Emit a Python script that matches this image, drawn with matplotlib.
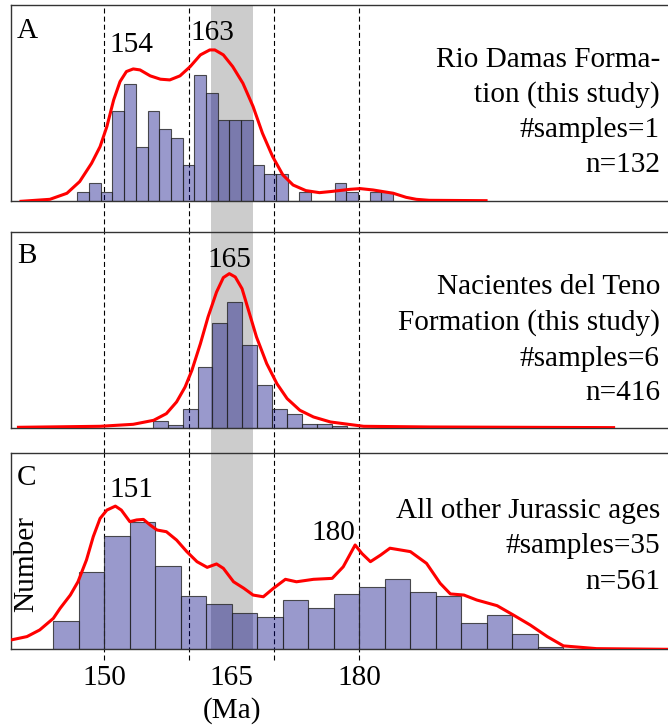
import numpy as np
import matplotlib.pyplot as plt

plt.rcParams['font.family'] = ['Liberation Serif', 'DejaVu Serif']

W, H = 668, 728

# histograms: first bin edge (Ma), bin width (Ma), counts per bin
a_start, a_width = 146.83, 1.375
a_counts = [1, 2, 1, 10, 13, 6, 10, 8, 7, 4, 14, 12, 9, 9, 9, 4, 3, 3, 0, 1,
            0, 0, 2, 1, 0, 1, 1]
b_start, b_width = 155.69, 1.758
b_counts = [6, 3, 16, 51, 88, 106, 70, 36, 16, 12, 4, 4, 2]
c_start, c_width = 144.0, 3.0
c_counts = [15, 41, 60, 67, 44, 28, 24, 19, 17, 26, 22, 29, 33, 37, 30, 28,
            14, 18, 8, 1]

# density curves (Ma, scaled to counts)
a_kde_x = [140.2, 143.6, 145.6, 147.1, 148.5, 149.5, 150.3, 151.1, 151.85, 152.6,
           153.4, 154.2, 155.4, 156.6, 157.7, 158.9, 160.1, 161.3, 162.4, 163.0,
           164.0, 165.1, 166.3, 167.5, 168.6, 169.8, 171.0, 172.2, 173.7, 175.3,
           176.8, 178.9, 180.1, 181.6, 184.0, 185.5, 186.7, 188.2, 194.9]
a_kde_y = [0.0, 0.22, 0.89, 2.19, 4.22, 6.07, 8.3, 11.26, 13.3, 14.41,
           14.7, 14.59, 13.93, 13.56, 13.48, 13.93, 14.96, 16.26, 16.81, 16.81,
           16.26, 14.96, 13.11, 10.52, 7.56, 4.96, 2.93, 1.81, 1.19, 0.96,
           1.1, 1.33, 1.41, 1.26, 0.89, 0.44, 0.22, 0.11, 0.07]
b_kde_x = [139.9, 149.5, 153.4, 155.8, 157.3, 158.5, 159.5, 160.3, 161.3, 162.2,
           163.2, 164.0, 164.7, 165.4, 166.2, 166.9, 167.9, 169.1, 170.3, 171.5,
           173.0, 174.6, 176.6, 180.5, 188.3, 209.9]
b_kde_y = [0.84, 1.68, 3.35, 6.7, 12.3, 22.1, 34.6, 48.6, 70.9, 93.3,
           114.2, 126.3, 129.6, 126.8, 117.0, 100.3, 76.5, 54.2, 37.4, 24.9,
           15.1, 9.5, 5.3, 1.68, 1.12, 0.56]
c_kde_x = [139.0, 140.9, 142.4, 144.0, 144.8, 146.0, 146.9, 147.9, 148.7, 149.5,
           150.3, 151.3, 152.0, 153.0, 153.8, 154.6, 155.4, 156.2, 157.3, 158.5,
           159.7, 160.9, 162.1, 163.2, 164.0, 165.2, 166.4, 167.5, 168.7, 169.9,
           171.3, 172.6, 174.6, 176.8, 178.1, 179.5, 180.3, 181.3, 182.5, 183.6,
           186.0, 187.9, 189.5, 190.7, 192.3, 193.8, 196.2, 198.1, 200.1, 202.1,
           204.0, 207.9, 216.3]
c_kde_y = [4.9, 6.7, 10.2, 16.3, 21.6, 28.6, 35.6, 47.1, 59.4, 69.0,
           73.4, 75.5, 73.4, 67.3, 68.2, 68.5, 65.5, 62.9, 62.0, 57.6,
           51.5, 46.2, 43.2, 45.0, 42.7, 35.6, 32.2, 28.6, 27.7, 32.2,
           36.9, 35.6, 36.9, 37.4, 43.5, 55.0, 50.5, 46.2, 49.7, 53.3,
           51.5, 45.3, 34.8, 29.2, 28.6, 26.0, 23.0, 18.1, 12.8, 6.7,
           1.8, 0.35, 0.0]

ref_lines = [150, 160, 170, 180]
band = (162.5, 167.5)
xticks = [150, 165, 180]

fig = plt.figure(figsize=(W / 100, H / 100), dpi=100)


def px(x, y):
    return x / W, 1 - y / H


def make_panel(top, bottom, start, width, counts, kx, ky, ymax, dash_lo, band_lo):
    left = 10.8
    ax = fig.add_axes([left / W, 1 - bottom / H, 1 - left / W, (bottom - top) / H])
    edges = start + width * np.arange(len(counts))
    ax.bar(edges, counts, width=width, align='edge', facecolor=(0, 0, 0.5, 0.4),
           edgecolor=(0.15, 0.15, 0.15, 0.8), linewidth=0.8, zorder=2)
    ax.plot(kx, ky, color='red', lw=2.2, zorder=3, solid_joinstyle='round')
    span = ax.axvspan(*band, ymin=band_lo, ymax=1, color='#cccccc', lw=0, zorder=0.5)
    span.set_clip_on(False)
    for v in ref_lines:
        ln = ax.axvline(v, ymin=dash_lo, ymax=1, color='black', lw=0.8,
                        ls=(0, (4.5, 2.8)), zorder=1.5)
        ln.set_clip_on(False)
    ax.set_xlim(139, 216.3)
    ax.set_ylim(0, ymax)
    ax.set_yticks([])
    ax.set_xticks([])
    ax.spines['right'].set_visible(False)
    for s in ['top', 'left', 'bottom']:
        ax.spines[s].set_color('#333333')
        ax.spines[s].set_linewidth(1.0)
    ax.patch.set_alpha(0)
    return ax


axA = make_panel(5, 201.3, a_start, a_width, a_counts, a_kde_x, a_kde_y, 21.8, -0.156, -0.156)
axB = make_panel(232, 428.3, b_start, b_width, b_counts, b_kde_x, b_kde_y, 164.5, -0.126, -0.126)
axC = make_panel(453, 649.3, c_start, c_width, c_counts, c_kde_x, c_kde_y, 103.5, -0.055, 0)

fs = 21.1
axC.set_xticks(xticks)
axC.tick_params(axis='x', length=0, pad=11.5, labelsize=fs)
axC.set_xlabel('(Ma)', fontsize=fs)
axC.xaxis.label.set_va('baseline')
axC.xaxis.set_label_coords(165, -(718 - 649.3) / 196.3, transform=axC.get_xaxis_transform())

txt = dict(fontsize=fs, va='baseline')

# panel letters
fig.text(*px(17, 38.3), 'A', ha='left', **txt)
fig.text(*px(17, 263.3), 'B', ha='left', **txt)
fig.text(*px(17, 485), 'C', ha='left', **txt)

# peak ages
fig.text(*px(131.7, 51.7), '154', ha='center', **txt)
fig.text(*px(212.3, 40), '163', ha='center', **txt)
fig.text(*px(229.3, 266.7), '165', ha='center', **txt)
fig.text(*px(131, 497.3), '151', ha='center', **txt)
fig.text(*px(333.5, 540), '180', ha='center', **txt)

# descriptions
for y, s in zip([66.7, 101.7, 137.3, 171.7],
                ['Rio Damas Forma-', 'tion (this study)', '#samples=1', 'n=132']):
    fig.text(*px(660, y), s, ha='right', **txt)
for y, s in zip([294, 330, 366, 400],
                ['Nacientes del Teno', 'Formation (this study)', '#samples=6', 'n=416']):
    fig.text(*px(660, y), s, ha='right', **txt)
for y, s in zip([518.3, 552.7, 589],
                ['All other Jurassic ages', '#samples=35', 'n=561']):
    fig.text(*px(660, y), s, ha='right', **txt)

fig.text(*px(26, 564), 'Number', rotation=90, ha='center', va='center', fontsize=fs)

fig.savefig('out.png', dpi=100)
